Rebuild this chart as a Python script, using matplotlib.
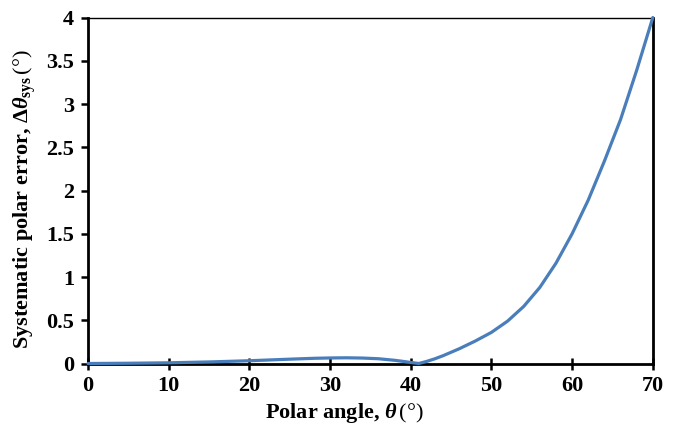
import matplotlib
matplotlib.use("Agg")
import matplotlib.pyplot as plt
from matplotlib.ticker import FuncFormatter

# Data
theta = [0, 5, 10, 15, 20, 25, 28, 30, 32, 34, 36, 38, 39, 40, 41, 42, 43, 44, 46, 48,
         50, 52, 54, 56, 58, 60, 62, 64, 66, 68, 70]
err = [0.0, 0.003, 0.008, 0.018, 0.032, 0.050, 0.060, 0.064, 0.066, 0.063, 0.055, 0.037, 0.025, 0.012, 0.0, 0.025, 0.055, 0.09, 0.17, 0.26,
       0.36, 0.49, 0.66, 0.88, 1.16, 1.50, 1.89, 2.34, 2.82, 3.39, 4.0]

x_ticks = [0, 10, 20, 30, 40, 50, 60, 70]
y_ticks = [0, 0.5, 1, 1.5, 2, 2.5, 3, 3.5, 4]

plt.rcParams['font.family'] = ['Liberation Serif', 'DejaVu Serif']
plt.rcParams['mathtext.fontset'] = 'custom'
plt.rcParams['mathtext.rm'] = 'Liberation Serif:bold'
plt.rcParams['mathtext.it'] = 'Liberation Serif:italic:bold'
plt.rcParams['mathtext.bf'] = 'Liberation Serif:bold'
plt.rcParams['mathtext.sf'] = 'Liberation Serif'

fig = plt.figure(figsize=(6.85, 4.28), dpi=100)
ax = fig.add_axes([0.1285, 0.1507, 0.8245, 0.8083])

ax.plot(theta, err, color='#4a7ebb', lw=2.3, solid_capstyle='round', clip_on=False, zorder=3)

ax.set_xlim(0, 70)
ax.set_ylim(0, 4)
ax.set_xticks(x_ticks)
ax.set_yticks(y_ticks)
ax.yaxis.set_major_formatter(FuncFormatter(lambda v, p: ('%g' % v)))

for side in ['left', 'bottom', 'right']:
    ax.spines[side].set_linewidth(2.0)
ax.spines['top'].set_linewidth(1.0)
for s in ax.spines.values():
    s.set_color('black')

ax.tick_params(axis='x', direction='inout', length=8, width=1.8, labelsize=16, pad=5)
ax.tick_params(axis='y', direction='out', length=5, width=1.8, labelsize=16, pad=5)
for lbl in ax.get_xticklabels() + ax.get_yticklabels():
    lbl.set_fontweight('bold')

ax.set_xlabel(r"Polar angle, $\mathit{\theta}\,\mathsf{(°)}$", fontsize=16, fontweight='bold')
ax.set_ylabel(r"Systematic polar error, $\Delta\mathit{\theta}_{\mathrm{sys}}\,\mathsf{(°)}$", fontsize=16, fontweight='bold')
ax.xaxis.set_label_coords(0.502, 0.062, transform=fig.transFigure)
ax.yaxis.set_label_coords(0.056, 0.535, transform=fig.transFigure)

fig.savefig('out.png', dpi=100)
